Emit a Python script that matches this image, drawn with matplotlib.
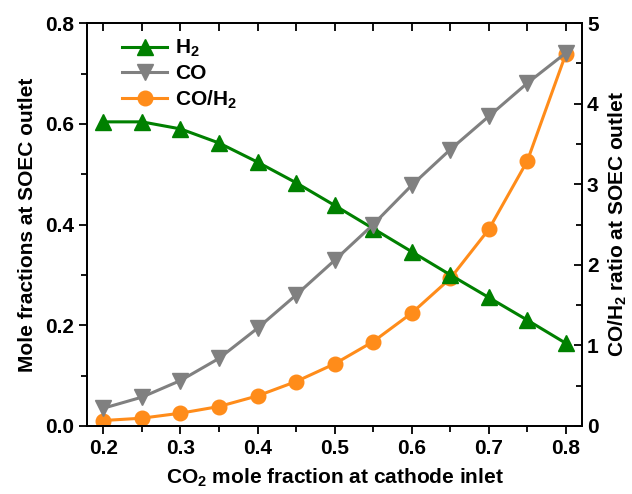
import numpy as np
import matplotlib
matplotlib.use('Agg')
from matplotlib import pyplot as plt
from matplotlib.ticker import MultipleLocator

plt.rcParams['font.family'] = 'Liberation Sans'
plt.rcParams['font.weight'] = 'bold'
plt.rcParams['mathtext.fontset'] = 'custom'
plt.rcParams['mathtext.rm'] = 'Liberation Sans:bold'
plt.rcParams['mathtext.bf'] = 'Liberation Sans:bold'
plt.rcParams['mathtext.default'] = 'bf'

# CO2 mole fraction at cathode inlet
co2_in = [0.20, 0.25, 0.30, 0.35, 0.40, 0.45, 0.50, 0.55, 0.60, 0.65, 0.70, 0.75, 0.80]
# mole fractions at outlet
h2 = [0.604, 0.604, 0.590, 0.562, 0.524, 0.483, 0.438, 0.392, 0.346, 0.300, 0.255, 0.210, 0.164]
co = [0.035, 0.057, 0.090, 0.134, 0.194, 0.260, 0.329, 0.400, 0.478, 0.549, 0.615, 0.681, 0.741]
# CO/H2 ratio (right axis)
ratio = [0.066, 0.095, 0.157, 0.240, 0.372, 0.550, 0.770, 1.046, 1.400, 1.830, 2.440, 3.290, 4.620]

green = '#008000'
grey = '#808080'
orange = '#FF8C1A'
fs = 15

fig = plt.figure(figsize=(6.32, 4.94), dpi=100)
ax = fig.add_axes([0.138, 0.138, 0.783, 0.815])
ax2 = ax.twinx()
ax.set_zorder(ax2.get_zorder() + 1)
ax.patch.set_visible(False)

l3, = ax2.plot(co2_in, ratio, '-o', color=orange, lw=2.2, ms=10.5, mec=orange, label='CO/H$_2$')
l1, = ax.plot(co2_in, h2, '-^', color=green, lw=2.2, ms=11, mec=green, label='H$_2$')
l2, = ax.plot(co2_in, co, '-v', color=grey, lw=2.2, ms=11, mec=grey, label='CO')

ax.set_xlim(0.179, 0.821)
ax.set_ylim(0, 0.8)
ax2.set_ylim(0, 5)

ax.xaxis.set_major_locator(MultipleLocator(0.1))
ax.xaxis.set_minor_locator(MultipleLocator(0.05))
ax.yaxis.set_major_locator(MultipleLocator(0.2))
ax.yaxis.set_minor_locator(MultipleLocator(0.1))
ax2.yaxis.set_major_locator(MultipleLocator(1))
ax2.yaxis.set_minor_locator(MultipleLocator(0.5))

ax.tick_params(axis='x', which='both', direction='out', top=True, labelsize=fs, width=1.3)
ax.tick_params(axis='x', which='major', length=6)
ax.tick_params(axis='x', which='minor', length=4)
ax.tick_params(axis='y', which='both', direction='out', labelsize=fs, width=1.3)
ax.tick_params(axis='y', which='major', length=6)
ax.tick_params(axis='y', which='minor', length=4)
ax2.tick_params(axis='y', which='both', direction='in', labelsize=fs, width=1.3)
ax2.tick_params(axis='y', which='major', length=6)
ax2.tick_params(axis='y', which='minor', length=4)
# top ticks point inward
for t in ax.xaxis.get_major_ticks() + ax.xaxis.get_minor_ticks():
    t.tick2line.set_marker(3)
    t.tick2line.set_markersize(6)

for sp in ax.spines.values():
    sp.set_linewidth(1.3)
for sp in ax2.spines.values():
    sp.set_linewidth(1.3)

ax.set_xlabel('CO$_2$ mole fraction at cathode inlet', fontsize=fs, fontweight='bold', labelpad=6)
ax.set_ylabel('Mole fractions at SOEC outlet', fontsize=fs, fontweight='bold', labelpad=6)
ax2.set_ylabel('CO/H$_2$ ratio at SOEC outlet', fontsize=fs, fontweight='bold', labelpad=6)

ax.legend(handles=[l1, l2, l3], loc='upper left', bbox_to_anchor=(0.04, 1.0),
          frameon=False, fontsize=fs, handlelength=2.2, handletextpad=0.35,
          labelspacing=0.25, borderaxespad=0.3)

fig.savefig('out.png', dpi=100)
